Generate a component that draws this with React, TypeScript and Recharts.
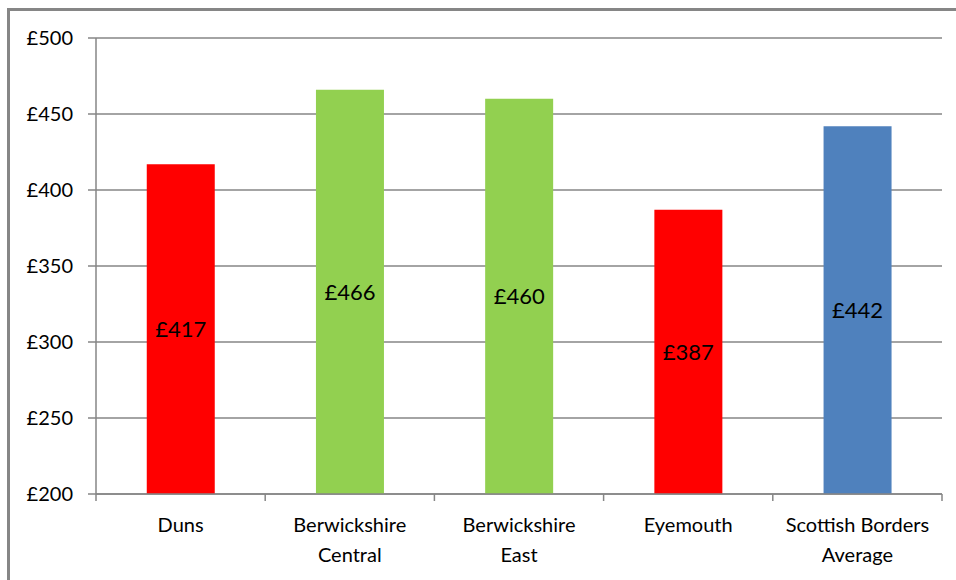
import { BarChart, Bar, XAxis, YAxis, CartesianGrid, Cell, LabelList } from 'recharts';

const categories = ['Duns', 'Berwickshire Central', 'Berwickshire East', 'Eyemouth', 'Scottish Borders Average'];
const tickLines = [['Duns'], ['Berwickshire', 'Central'], ['Berwickshire', 'East'], ['Eyemouth'], ['Scottish Borders', 'Average']];
const values = [417, 466, 460, 387, 442];
const barColors = ['#ff0000', '#92d050', '#92d050', '#ff0000', '#4f81bd'];
const yTicks = [200, 250, 300, 350, 400, 450, 500];

const data = categories.map((name, i) => ({ name, value: values[i], lines: tickLines[i] }));

const W = 940;
const H = 564;
const AXIS_W = 88;
const RIGHT = 6;
const GREY = '#868686';
const BAND = (W - AXIS_W - RIGHT) / categories.length;

function CategoryTick(props: any) {
  const { x, y, index } = props;
  const lines = tickLines[index] || [];
  const last = index === categories.length - 1;
  return (
    <g>
      <line x1={x - BAND / 2} x2={x - BAND / 2} y1={y} y2={y + 7} stroke={GREY} strokeWidth={1.5} />
      {last && <line x1={x + BAND / 2} x2={x + BAND / 2} y1={y} y2={y + 7} stroke={GREY} strokeWidth={1.5} />}
      {lines.map((t: string, k: number) => (
        <text key={k} x={x} y={y + 38 + k * 30} textAnchor="middle" fill="#000" fontSize={20}>
          {t}
        </text>
      ))}
    </g>
  );
}

export default function App() {
  return (
    <div style={{ position: 'fixed', left: 0, top: 0, width: 956, height: 580, fontFamily: 'Lato, sans-serif', overflow: 'hidden', background: '#fff' }}>
      <div
        style={{
          position: 'absolute',
          left: 7,
          top: 8,
          width: 980,
          height: 600,
          borderTop: `3px solid ${GREY}`,
          borderLeft: `3px solid ${GREY}`,
          boxSizing: 'border-box',
        }}
      />
      <div style={{ position: 'absolute', left: 8, top: 8 }}>
        <BarChart width={W} height={H} data={data} margin={{ top: 30, right: RIGHT, left: 0, bottom: 0 }} barCategoryGap="30%">
          <CartesianGrid vertical={false} stroke={GREY} strokeWidth={1.5} />
          <XAxis
            dataKey="name"
            height={78}
            interval={0}
            tickLine={false}
            tickSize={0}
            tickMargin={0}
            axisLine={{ stroke: GREY, strokeWidth: 1.5 }}
            tick={<CategoryTick />}
          />
          <YAxis
            width={AXIS_W}
            domain={[200, 500]}
            ticks={yTicks}
            tickSize={8}
            tickMargin={15}
            tickLine={{ stroke: GREY, strokeWidth: 1.5 }}
            axisLine={{ stroke: GREY, strokeWidth: 1.5 }}
            tick={{ fill: '#000', fontSize: 20 }}
            tickFormatter={(v: number) => `£${v}`}
          />
          <Bar dataKey="value" isAnimationActive={false}>
            {data.map((d, i) => (
              <Cell key={d.name} fill={barColors[i]} />
            ))}
            <LabelList dataKey="value" position="center" fill="#000" fontSize={22} formatter={(v: any) => `£${v}`} />
          </Bar>
        </BarChart>
      </div>
    </div>
  );
}
